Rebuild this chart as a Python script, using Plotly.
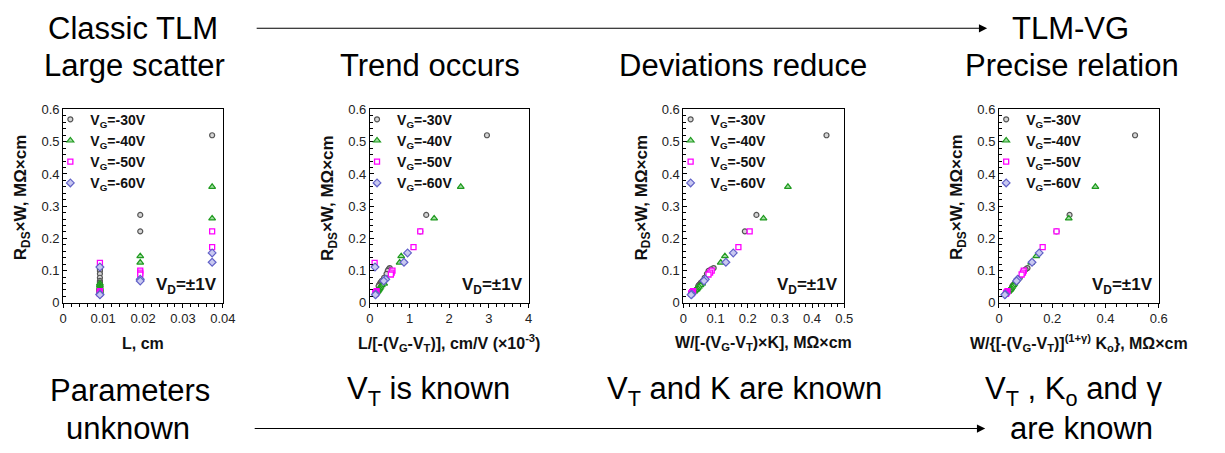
import plotly.graph_objects as go

W, H = 1225, 453

# ---------------- data ----------------
series_labels = ["V<sub>G</sub>=-30V", "V<sub>G</sub>=-40V", "V<sub>G</sub>=-50V", "V<sub>G</sub>=-60V"]

# R_DS*W (MOhm*cm)
rw_vg30 = [0.520, 0.273, 0.222, 0.108, 0.104, 0.099, 0.090, 0.078, 0.068, 0.063, 0.058, 0.055, 0.052]
rw_vg40 = [0.360, 0.262, 0.145, 0.125, 0.060, 0.055, 0.050, 0.046, 0.042, 0.040, 0.037, 0.035]
rw_vg50 = [0.222, 0.173, 0.100, 0.094, 0.088, 0.124, 0.036, 0.033, 0.030, 0.028]
rw_vg60 = [0.155, 0.126, 0.073, 0.068, 0.111, 0.027, 0.025]

# Panel 1: L, cm
L_vg30 = [0.0373, 0.0193, 0.0193, 0.0092, 0.0092, 0.0092, 0.0092, 0.0092, 0.0092, 0.0092, 0.0092, 0.0092, 0.0092]
L_vg40 = [0.0373, 0.0373, 0.0193, 0.0193, 0.0092, 0.0092, 0.0092, 0.0092, 0.0092, 0.0092, 0.0092, 0.0092]
L_vg50 = [0.0373, 0.0373, 0.0193, 0.0193, 0.0193, 0.0092, 0.0092, 0.0092, 0.0092, 0.0092]
L_vg60 = [0.0373, 0.0373, 0.0193, 0.0193, 0.0092, 0.0092, 0.0092]

# Panel 2: L/[-(VG-VT)], cm/V (x1e-3)
lvt_vg30 = [2.95, 1.42, 1.27, 0.50, 0.47, 0.45, 0.42, 0.36, 0.30, 0.27, 0.25, 0.23, 0.22]
lvt_vg40 = [2.29, 1.62, 0.79, 0.75, 0.36, 0.30, 0.27, 0.25, 0.23, 0.21, 0.20, 0.19]
lvt_vg50 = [1.27, 1.10, 0.57, 0.55, 0.53, 0.12, 0.17, 0.15, 0.14, 0.14]
lvt_vg60 = [0.95, 0.86, 0.40, 0.35, 0.13, 0.15, 0.14]

# Panel 3: W/[-(VG-VT)K], MOhm*cm
wk_vg30 = [0.445, 0.227, 0.191, 0.094, 0.086, 0.078, 0.073, 0.066, 0.060, 0.055, 0.051, 0.048, 0.046]
wk_vg40 = [0.325, 0.249, 0.129, 0.116, 0.058, 0.053, 0.048, 0.044, 0.041, 0.038, 0.035, 0.033]
wk_vg50 = [0.206, 0.171, 0.088, 0.083, 0.078, None, 0.030, 0.027, 0.025, 0.024]
wk_vg60 = [0.155, 0.132, 0.068, 0.064, None, 0.026, 0.024]

# Panel 4: W/{[-(VG-VT)]^(1+g) Ko}, MOhm*cm
wko_vg30 = [0.511, 0.265, 0.216, 0.107, 0.100, 0.094, 0.088, 0.078, 0.068, 0.062, 0.057, 0.053, 0.050]
wko_vg40 = [0.362, 0.262, 0.140, 0.121, 0.058, 0.054, 0.050, 0.046, 0.043, 0.040, 0.037, 0.035]
wko_vg50 = [0.216, 0.164, 0.093, 0.090, 0.085, None, 0.032, 0.029, 0.027, 0.026]
wko_vg60 = [0.151, 0.124, 0.070, 0.066, None, 0.024, 0.022]

y_series = [rw_vg30, rw_vg40, rw_vg50, rw_vg60]
x_panels = [
    [L_vg30, L_vg40, L_vg50, L_vg60],
    [lvt_vg30, lvt_vg40, lvt_vg50, lvt_vg60],
    [wk_vg30, wk_vg40, wk_vg50, wk_vg60],
    [wko_vg30, wko_vg40, wko_vg50, wko_vg60],
]

x_titles = [
    "<b>L, cm</b>",
    "<b>L/[-(V<sub>G</sub>-V<sub>T</sub>)], cm/V (×10<sup>-3</sup>)</b>",
    "<b>W/[-(V<sub>G</sub>-V<sub>T</sub>)×K], MΩ×cm</b>",
    "<b>W/{[-(V<sub>G</sub>-V<sub>T</sub>)]<sup>(1+γ)</sup> K<sub>o</sub>}, MΩ×cm</b>",
]
x_ranges = [[0, 0.04], [0, 4], [0, 0.5], [0, 0.6]]
x_dticks = [0.01, 1, 0.1, 0.2]
y_title = "<b>R<sub>DS</sub>×W, MΩ×cm</b>"

# ---------------- styles ----------------
FONT = "Liberation Sans, Arial, sans-serif"
styles = [
    dict(symbol="circle", size=5, color="#d6d6d6", line=dict(color="#555555", width=1.2)),
    dict(symbol="triangle-up", size=6, color="#9fdc9f", line=dict(color="#1f9a1f", width=1.2)),
    dict(symbol="square", size=5, color="#ffffff", line=dict(color="#ff00ff", width=1.3)),
    dict(symbol="diamond", size=6, color="#c8c8f0", line=dict(color="#6262c8", width=1.2)),
]

PX = [(60, 222), (371, 532), (689, 852), (1009, 1171)]
YT, YB = 106, 306


def px(x):
    return x / W


def py(y):
    return 1 - y / H


fig = go.Figure()
for p in range(4):
    xa = "x" if p == 0 else f"x{p+1}"
    ya = "y" if p == 0 else f"y{p+1}"
    lg = "legend" if p == 0 else f"legend{p+1}"
    for s in range(4):
        fig.add_trace(go.Scatter(
            x=x_panels[p][s], y=y_series[s], mode="markers",
            name=series_labels[s], xaxis=xa, yaxis=ya, legend=lg,
            marker=styles[s], hoverinfo="skip",
        ))

layout = dict(
    width=W, height=H, margin=dict(l=0, r=0, t=0, b=0),
    paper_bgcolor="white", plot_bgcolor="white",
    font=dict(family=FONT, color="#111111"),
    annotations=[],
)

for p in range(4):
    xk = "xaxis" if p == 0 else f"xaxis{p+1}"
    yk = "yaxis" if p == 0 else f"yaxis{p+1}"
    xa = "x" if p == 0 else f"x{p+1}"
    ya = "y" if p == 0 else f"y{p+1}"
    l, r = PX[p]
    layout[xk] = dict(
        domain=[px(l), px(r)], anchor=ya, range=x_ranges[p], dtick=x_dticks[p], tick0=0,
        showline=True, linecolor="#000000", linewidth=1, mirror=True, showgrid=False, zeroline=False,
        ticks="outside", ticklen=4, tickcolor="#000000",
        minor=dict(ticks="outside", ticklen=3, dtick=x_dticks[p] / 5, tickcolor="#000000", showgrid=False),
        tickfont=dict(size=13, color="#222222"),
    )
    layout[yk] = dict(
        domain=[py(YB), py(YT)], anchor=xa, range=[0, 0.6], dtick=0.1, tick0=0,
        showline=True, linecolor="#000000", linewidth=1, mirror=True, showgrid=False, zeroline=False,
        ticks="inside", ticklen=4, tickcolor="#000000",
        minor=dict(ticks="inside", ticklen=3, dtick=0.02, tickcolor="#000000", showgrid=False),
        tickfont=dict(size=13, color="#222222"),
    )
    lgk = "legend" if p == 0 else f"legend{p+1}"
    layout[lgk] = dict(
        x=px(l - 13), y=py(YT - 6), xanchor="left", yanchor="top",
        bgcolor="rgba(0,0,0,0)", borderwidth=0,
        font=dict(size=14, family=FONT, color="#111111", weight="bold"),
        tracegroupgap=0,
    )
    cx = (l + r) / 2
    layout["annotations"].append(dict(
        text=x_titles[p], x=px(cx), y=py(348), xref="paper", yref="paper",
        xanchor="center", yanchor="middle", showarrow=False,
        font=dict(size=16, family=FONT, color="#111111"),
    ))
    layout["annotations"].append(dict(
        text=y_title, x=px(l - 41), y=py(197), xref="paper", yref="paper",
        xanchor="center", yanchor="middle", showarrow=False, textangle=-90,
        font=dict(size=17, family=FONT, color="#111111"),
    ))
    layout["annotations"].append(dict(
        text="<b>V<sub>D</sub>=±1V</b>", x=px(r - 4), y=py(289), xref="paper", yref="paper",
        xanchor="right", yanchor="middle", showarrow=False,
        font=dict(size=17, family=FONT, color="#111111"),
    ))

big = dict(size=31, family=FONT, color="#000000")
texts = [
    ("Classic TLM", 131, 22), ("TLM-VG", 1082, 22),
    ("Large scatter", 132, 60), ("Trend occurs", 432, 60),
    ("Deviations reduce", 749, 60), ("Precise relation", 1083, 60),
    ("Parameters", 128, 397), ("unknown", 126, 436),
    ("V<sub>T</sub> is known", 430, 397), ("V<sub>T</sub> and K are known", 751, 397),
    ("V<sub>T</sub> , K<sub>o</sub> and γ", 1085, 397), ("are known", 1093, 436),
]
for t, x, y in texts:
    layout["annotations"].append(dict(
        text=t, x=px(x), y=py(y), xref="paper", yref="paper",
        xanchor="center", yanchor="middle", showarrow=False, font=big,
    ))

for (x0, x1, y) in [(265, 997, 22), (263, 995, 436)]:
    layout["annotations"].append(dict(
        text="", x=px(x1), y=py(y), xref="paper", yref="paper",
        ax=-(x1 - x0), ay=0, axref="pixel", ayref="pixel",
        showarrow=True, arrowhead=2, arrowsize=1.5, arrowwidth=1.1, arrowcolor="#000000",
        standoff=0,
    ))

fig.update_layout(**layout)
fig.write_html("out.html")
